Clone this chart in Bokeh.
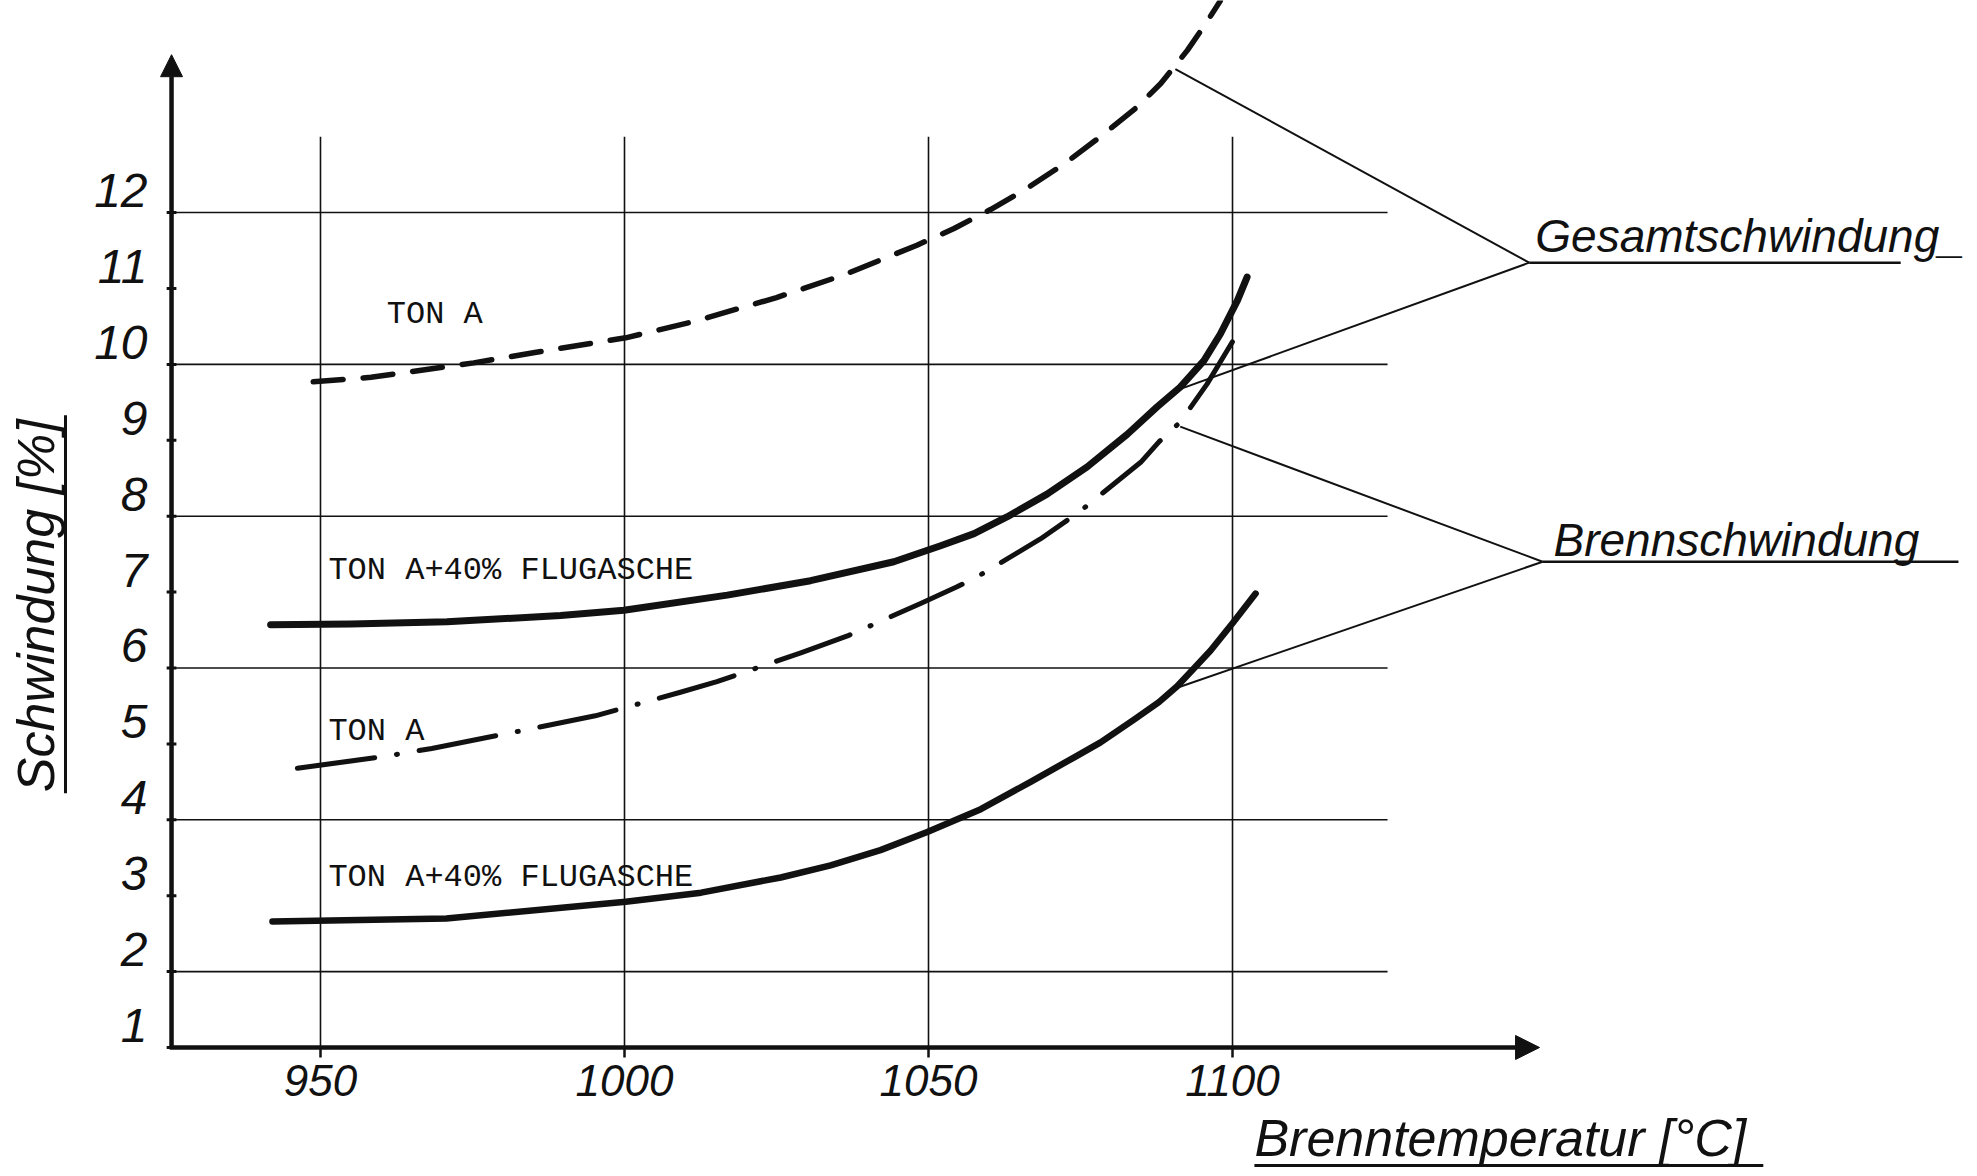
from bokeh.plotting import figure
from bokeh.models import LinearAxis, FixedTicker, Arrow, NormalHead, Range1d
from bokeh.core.properties import value
from bokeh.embed import file_html
from bokeh.resources import INLINE
import math

# ---------------- data ----------------
temp_ticks = [950, 1000, 1050, 1100]
shrink_ticks = [1, 2, 3, 4, 5, 6, 7, 8, 9, 10, 11, 12]
grid_temps = [950, 1000, 1050, 1100]
grid_shrink = [2, 4, 6, 8, 10, 12]

# Gesamtschwindung, TON A (dashed)
gesamt_ton_a_t = [948.8, 958.3, 975.2, 985.5, 1000.2, 1011.2, 1025.0, 1036.1, 1048.1,
                  1054.2, 1060.2, 1066.0, 1072.3, 1078.6, 1084.3, 1088.2, 1092.6,
                  1095.6, 1098.0]
gesamt_ton_a_v = [9.77, 9.83, 10.02, 10.16, 10.35, 10.56, 10.88, 11.18, 11.57,
                  11.79, 12.04, 12.31, 12.64, 13.02, 13.39, 13.70, 14.14,
                  14.49, 14.79]

# Gesamtschwindung, TON A + 40% Flugasche (thick solid)
gesamt_flug_t = [941.8, 955.0, 970.8, 989.5, 999.9, 1016.9, 1030.6, 1044.3, 1052.0,
                 1057.5, 1062.9, 1069.5, 1076.1, 1082.7, 1087.6, 1091.4, 1095.3,
                 1098.0, 1100.8, 1102.4]
gesamt_flug_v = [6.57, 6.58, 6.61, 6.69, 6.76, 6.96, 7.15, 7.40, 7.61,
                 7.77, 7.99, 8.29, 8.65, 9.08, 9.44, 9.70, 10.05,
                 10.40, 10.84, 11.15]

# Brennschwindung, TON A (dash-dot)
brenn_ton_a_t = [946.2, 960.2, 968.3, 984.1, 995.2, 1009.2, 1015.2, 1029.0, 1036.9,
                 1048.7, 1054.7, 1058.0, 1068.4, 1074.7, 1084.9, 1087.9, 1091.4,
                 1095.8, 1099.1, 1101.6]
brenn_ton_a_v = [4.68, 4.83, 4.94, 5.19, 5.37, 5.68, 5.82, 6.20, 6.43,
                 6.85, 7.07, 7.20, 7.70, 8.05, 8.71, 8.98, 9.24,
                 9.74, 10.18, 10.51]

# Brennschwindung, TON A + 40% Flugasche (thick solid)
brenn_flug_t = [942.1, 970.7, 1000.2, 1012.6, 1025.7, 1033.9, 1042.1, 1049.8, 1058.6,
                1066.8, 1073.9, 1078.3, 1083.8, 1087.9, 1090.9, 1093.6, 1096.4,
                1100.2, 1103.8]
brenn_flug_v = [2.66, 2.70, 2.92, 3.04, 3.24, 3.40, 3.60, 3.84, 4.14,
                4.50, 4.82, 5.02, 5.32, 5.55, 5.76, 5.99, 6.23,
                6.61, 6.98]

curve_labels = ["TON A", "TON A+40% FLUGASCHE", "TON A", "TON A+40% FLUGASCHE"]
group_labels = ["Gesamtschwindung_", "Brennschwindung"]
x_title = "Brenntemperatur [°C]"
y_title = "Schwindung [%]"

# ---------------- figure ----------------
INK = "#111111"
NORM = "Liberation Sans"

Y_START, Y_END = -0.6996, 14.794
p = figure(width=1977, height=1176,
           x_range=Range1d(897.37, 1222.53), y_range=Range1d(Y_START, Y_END),
           x_axis_type=None, y_axis_type=None,
           toolbar_location=None, output_backend="svg", min_border=0)
p.outline_line_color = None
p.background_fill_color = "white"
p.border_fill_color = "white"

X0 = 925.5   # position of the vertical axis
Y0 = 1       # position of the horizontal axis

# grid
p.segment(x0=[X0] * len(grid_shrink), y0=grid_shrink,
          x1=[1125.5] * len(grid_shrink), y1=grid_shrink,
          line_color=INK, line_width=1.6)
p.segment(x0=grid_temps, y0=[Y0] * len(grid_temps),
          x1=grid_temps, y1=[13.0] * len(grid_temps),
          line_color=INK, line_width=1.6)

# axes with arrows
p.add_layout(Arrow(end=NormalHead(size=22, fill_color=INK, line_color=INK, line_width=1),
                   x_start=X0, y_start=Y0 - 0.02, x_end=X0, y_end=14.08,
                   line_color=INK, line_width=4.5))
p.add_layout(Arrow(end=NormalHead(size=24, fill_color=INK, line_color=INK, line_width=1),
                   x_start=X0 - 0.3, y_start=Y0, x_end=1150.5, y_end=Y0,
                   line_color=INK, line_width=4.5))
# small tick marks on the vertical axis
p.segment(x0=[X0 - 0.8] * len(shrink_ticks), y0=shrink_ticks,
          x1=[X0 + 0.8] * len(shrink_ticks), y1=shrink_ticks,
          line_color=INK, line_width=3)

# hand-lettered tick labels sit a little above their grid line
LBL_SHIFT = 0.29
p.extra_y_ranges = {"lbl": Range1d(Y_START - LBL_SHIFT, Y_END - LBL_SHIFT)}

xaxis = LinearAxis(fixed_location=Y0, ticker=FixedTicker(ticks=temp_ticks))
yaxis = LinearAxis(fixed_location=X0, y_range_name="lbl",
                   ticker=FixedTicker(ticks=shrink_ticks))
for ax in (xaxis, yaxis):
    ax.axis_line_color = None
    ax.minor_tick_line_color = None
    ax.major_tick_line_color = INK
    ax.major_label_text_font = NORM
    ax.major_label_text_font_style = "italic"
    ax.major_label_text_font_size = "48px"
    ax.major_label_text_color = INK
xaxis.major_tick_in = 0
xaxis.major_tick_out = 10
xaxis.major_tick_line_width = 2.5
xaxis.major_label_standoff = 8
xaxis.major_label_text_font_size = "44px"
yaxis.major_tick_line_color = None
yaxis.major_tick_in = 0
yaxis.major_tick_out = 4
yaxis.major_label_standoff = 20
p.add_layout(xaxis, "below")
p.add_layout(yaxis, "left")

# curves
p.line(gesamt_ton_a_t, gesamt_ton_a_v, line_color=INK, line_width=5.5,
       line_dash="30 20", line_cap="round")
p.line(gesamt_flug_t, gesamt_flug_v, line_color=INK, line_width=7, line_cap="round",
       line_join="round")
p.line(brenn_ton_a_t, brenn_ton_a_v, line_color=INK, line_width=5,
       line_dash="78 22 1 22", line_cap="round", line_join="round")
p.line(brenn_flug_t, brenn_flug_v, line_color=INK, line_width=6.5, line_cap="round",
       line_join="round")

# typewriter labels on the curves
p.text(x=[960.9, 951.3, 951.3, 951.3], y=[10.66, 7.28, 5.16, 3.24], text=curve_labels,
       text_font=value("Liberation Mono"), text_font_size="32px", text_color=INK,
       text_align="left", text_baseline="alphabetic")

# leader lines to the group labels
p.segment(x0=[1090.6, 1090.9, 1091.4, 1090.9], y0=[13.89, 9.66, 9.18, 5.74],
          x1=[1148.8, 1148.8, 1151.0, 1151.0], y1=[11.34, 11.34, 7.40, 7.40],
          line_color=INK, line_width=2)
p.segment(x0=[1148.8, 1151.0], y0=[11.34, 7.40], x1=[1209.9, 1219.4], y1=[11.34, 7.40],
          line_color=INK, line_width=2.5)
p.text(x=[1149.8, 1152.8], y=[11.69, 7.69], text=group_labels,
       text_font=value(NORM), text_font_style="italic", text_font_size="46px",
       text_color=INK, text_align="left", text_baseline="alphabetic")

# axis titles (hand lettered, underlined)
p.text(x=[1103.6], y=[-0.196], text=[x_title],
       text_font=value(NORM), text_font_style="italic", text_font_size="52px",
       text_color=INK, text_align="left", text_baseline="alphabetic")
p.segment(x0=[1103.6], y0=[-0.555], x1=[1187.3], y1=[-0.555], line_color=INK, line_width=3)

p.text(x=[903.2], y=[6.82], text=[y_title], angle=math.pi / 2,
       text_font=value(NORM), text_font_style="italic", text_font_size="52px",
       text_color=INK, text_align="center", text_baseline="alphabetic")
p.segment(x0=[908.06], y0=[4.35], x1=[908.06], y1=[9.33], line_color=INK, line_width=3)

open("out.html", "w").write(file_html(p, INLINE))
